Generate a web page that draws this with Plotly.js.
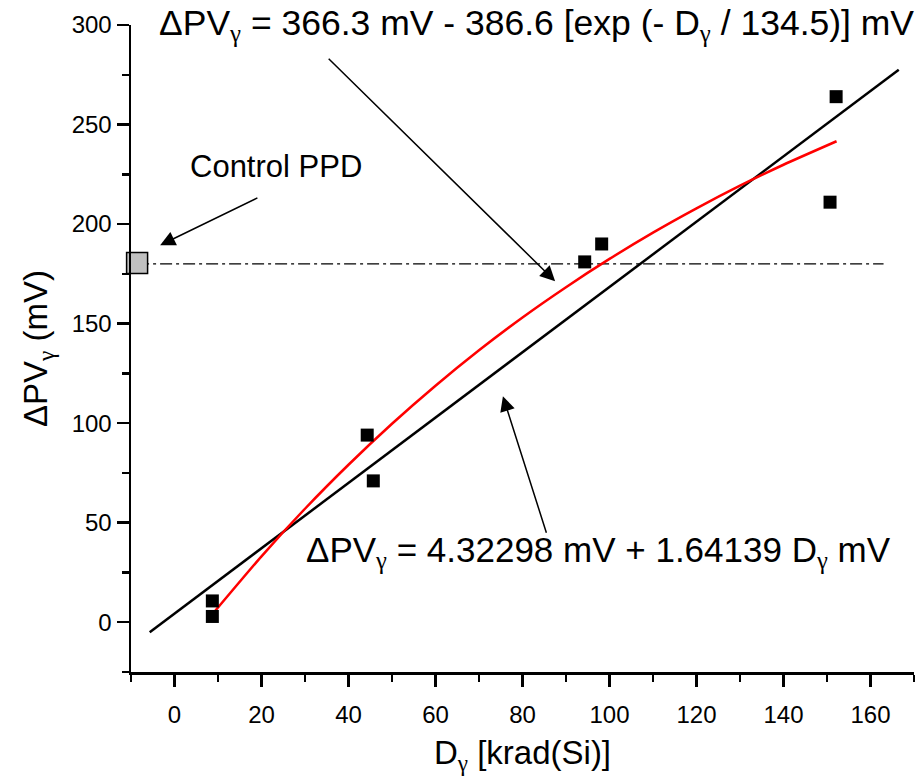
<!DOCTYPE html>
<html><head><meta charset="utf-8">
<script src="https://cdn.plot.ly/plotly-3.0.1.min.js"></script>
<style>html,body{margin:0;padding:0;background:#fff;}#chart{width:921px;height:780px;}</style>
</head><body><div id="chart"></div>
<script>
// Measured data points (dose in krad(Si), ΔPV in mV)
const doseX   = [8.7, 8.7, 44.3, 45.7, 94.3, 98.2, 150.7, 152.1];
const deltaPV = [2.9, 10.7, 94.0, 71.0, 181.0, 190.0, 211.0, 264.0];
// Control PPD reference
const controlX = [-8.6];
const controlY = [180.5];
const refLineX = [-8.6, 163];
const refLineY = [180, 180];
// Linear fit
const linFitX = [-5.7, 166.5];
const linFitY = [-5.0, 277.5];
// Exponential fit
const expFitX = [8.7, 20, 30, 40, 50, 60, 70, 80, 90, 100, 110, 120, 130, 140, 152.2];
const expFitY = [4.0, 33.1, 57.0, 79.1, 99.7, 118.8, 136.6, 153.1, 168.3, 182.5, 195.7, 207.9, 219.3, 229.8, 241.6];
// Ticks
const xTicks = [0, 20, 40, 60, 80, 100, 120, 140, 160];
const xMinor = [-10, 10, 30, 50, 70, 90, 110, 130, 150, 170];
const yTicks = [0, 50, 100, 150, 200, 250, 300];
const yMinor = [-25, 25, 75, 125, 175, 225, 275];

const G = '<sub><span style="font-family:Liberation Serif">γ</span></sub>';
const FONT = 'Liberation Sans, Arial, sans-serif';

const traces = [
  {x: refLineX, y: refLineY, mode: 'lines', line: {color: '#000', width: 1.3, dash: '12px,4px,3px,4px'}, hoverinfo: 'skip', cliponaxis: false},
  {x: linFitX, y: linFitY, mode: 'lines', line: {color: '#000', width: 2.5}},
  {x: expFitX, y: expFitY, mode: 'lines', line: {color: '#ff0000', width: 2.5, shape: 'spline', smoothing: 0.6}},
  {x: doseX, y: deltaPV, mode: 'markers', marker: {symbol: 'square', size: 13, color: '#000'}},
  {x: controlX, y: controlY, mode: 'markers', cliponaxis: false, marker: {symbol: 'square', size: 21, color: '#c0c0c0', line: {color: '#000', width: 1.5}}}
];

const arrow = (tx, ty, ax, ay) => ({
  x: tx, y: ty, ax: ax, ay: ay, xref: 'x', yref: 'y', axref: 'x', ayref: 'y',
  text: '', showarrow: true, arrowhead: 2, arrowsize: 2, arrowwidth: 1.5, arrowcolor: '#000', standoff: 0, startstandoff: 0
});

const layout = {
  width: 921, height: 780,
  margin: {l: 131, r: 7, t: 25, b: 108, pad: 0},
  paper_bgcolor: '#fff', plot_bgcolor: '#fff',
  showlegend: false,
  font: {family: FONT, color: '#000', size: 24},
  xaxis: {
    range: [-10, 170], tickmode: 'array', tickvals: xTicks, ticktext: xTicks.map(String),
    ticks: 'outside', ticklen: 12, tickwidth: 2.5, tickcolor: '#000', ticklabelstandoff: 8,
    showline: true, linewidth: 2.5, linecolor: '#000', showgrid: false, zeroline: false,
    tickfont: {size: 24, family: FONT},
    minor: {tickmode: 'array', tickvals: xMinor, ticks: 'outside', ticklen: 7, tickwidth: 2.5, tickcolor: '#000', showgrid: false},
    title: {text: 'D' + G + ' [krad(Si)]', font: {size: 33, family: FONT}, standoff: 14}
  },
  yaxis: {
    range: [-25, 300], tickmode: 'array', tickvals: yTicks, ticktext: yTicks.map(String),
    ticks: 'outside', ticklen: 12, tickwidth: 2.5, tickcolor: '#000',
    showline: true, linewidth: 2.5, linecolor: '#000', showgrid: false, zeroline: false,
    tickfont: {size: 24, family: FONT},
    minor: {tickmode: 'array', tickvals: yMinor, ticks: 'outside', ticklen: 7, tickwidth: 2.5, tickcolor: '#000', showgrid: false},
    title: {text: 'ΔPV' + G + ' (mV)', font: {size: 33, family: FONT}, standoff: 14}
  },
  annotations: [
    {x: 83.2, y: 300, xref: 'x', yref: 'y', text: 'ΔPV' + G + ' = 366.3 mV - 386.6 [exp (- D' + G + ' / 134.5)] mV',
     showarrow: false, font: {size: 35.5, family: FONT}, xanchor: 'center', yanchor: 'middle'},
    {x: 97.4, y: 35.2, xref: 'x', yref: 'y', text: 'ΔPV' + G + ' = 4.32298 mV + 1.64139 D' + G + ' mV',
     showarrow: false, font: {size: 35, family: FONT}, xanchor: 'center', yanchor: 'middle'},
    {x: 23.3, y: 229, xref: 'x', yref: 'y', text: 'Control PPD',
     showarrow: false, font: {size: 31, family: FONT}, xanchor: 'center', yanchor: 'middle'},
    arrow(-3.3, 189.4, 19.4, 213.5),
    arrow(87.5, 171.3, 35.1, 283.8),
    arrow(75.5, 113.5, 85.6, 44.2)
  ]
};

Plotly.newPlot('chart', traces, layout, {staticPlot: true, displayModeBar: false});
</script>
</body></html>
